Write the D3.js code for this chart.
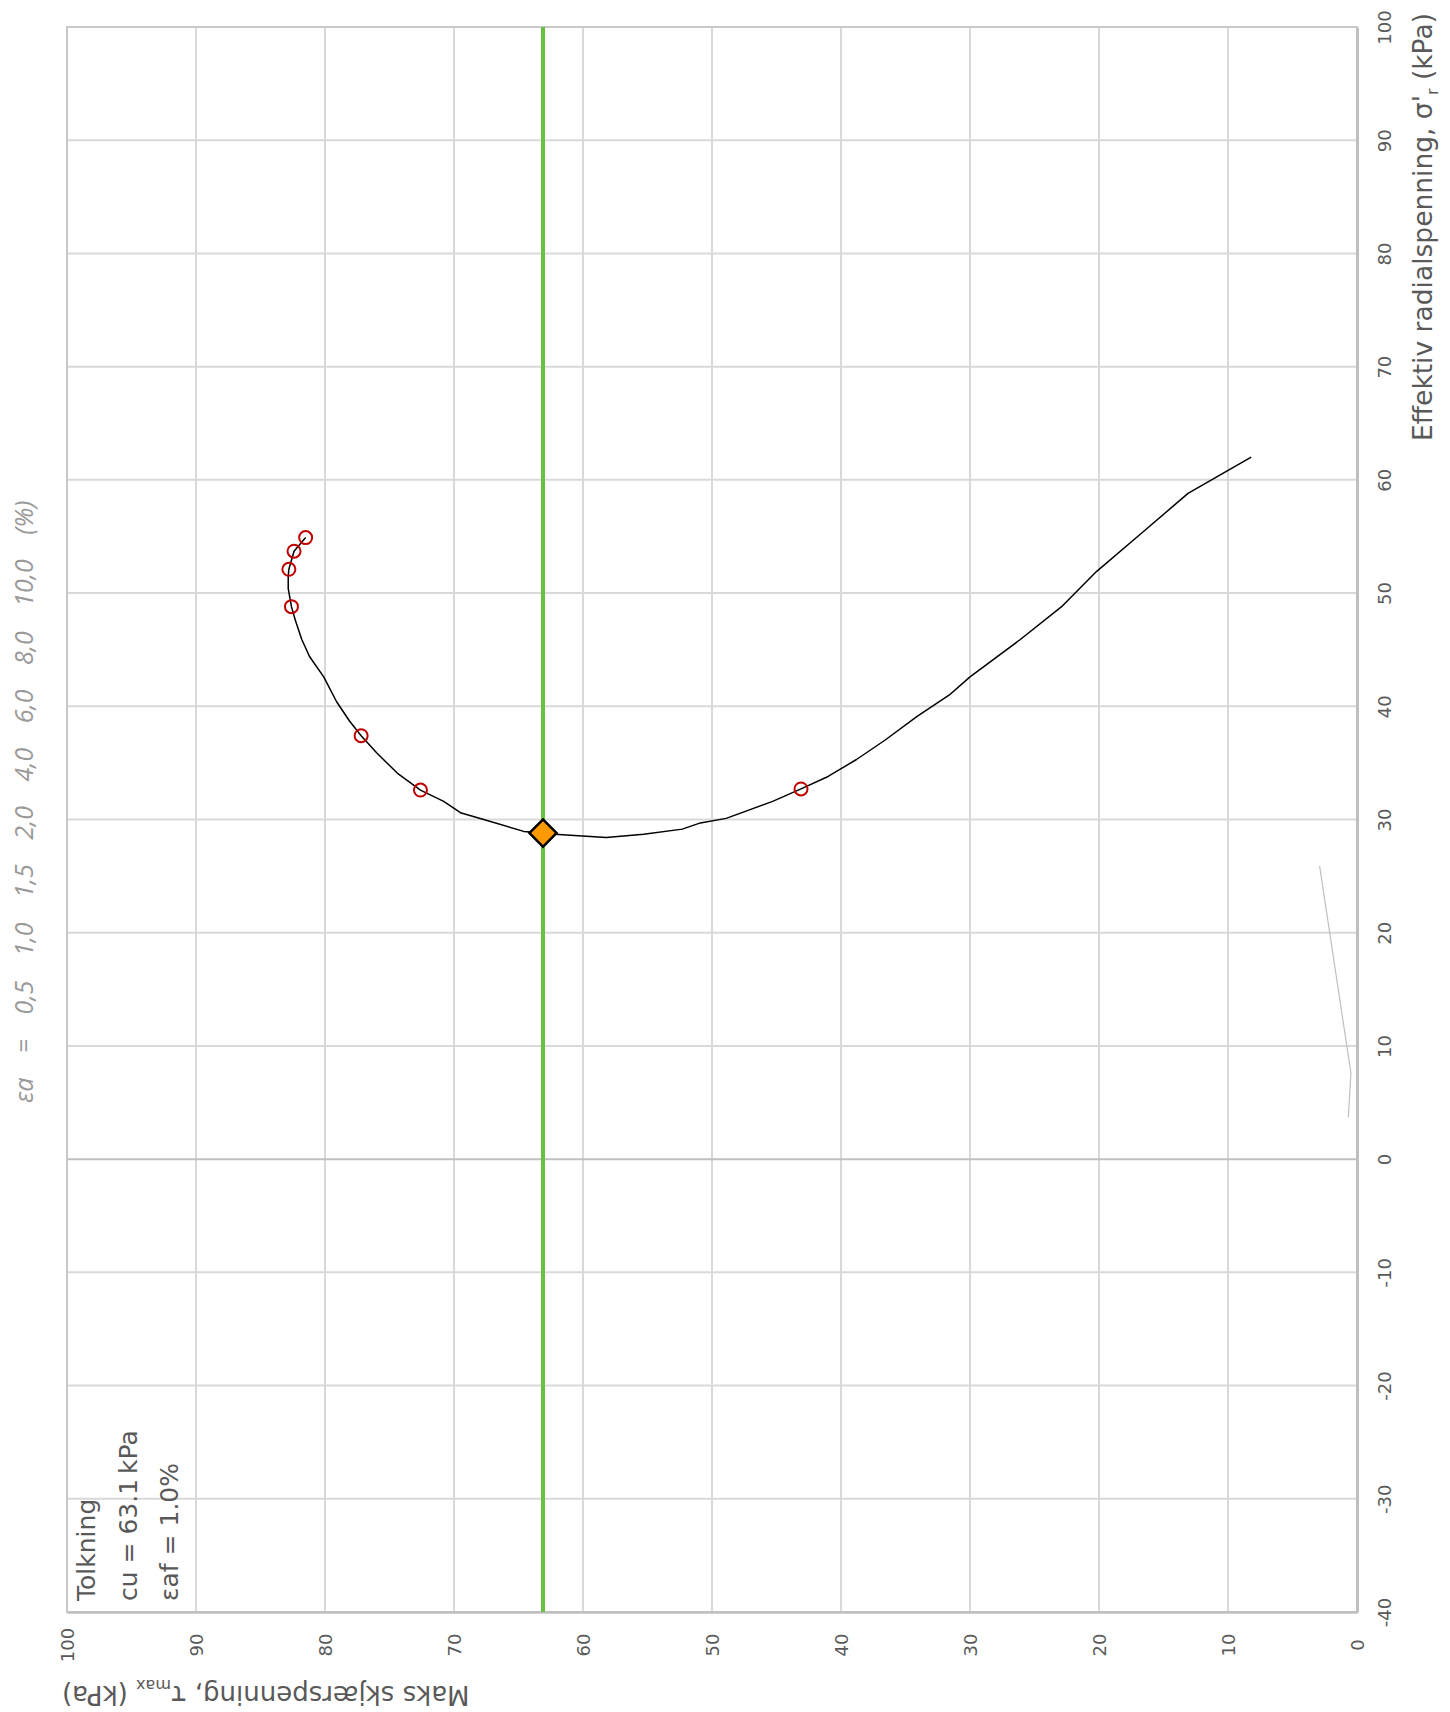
<!DOCTYPE html>
<html>
<head>
<meta charset="utf-8">
<script src="https://cdn.jsdelivr.net/npm/d3@7"></script>
<style>
  body { margin: 0; background: #fff; }
</style>
</head>
<body>
<script>
// stress path: max shear stress (tau) vs effective radial stress (sigma), both kPa
const pathTau = [8.2, 13.1, 16.8, 20.2, 22.9, 26.1, 30.0, 31.6, 34.1, 36.6, 38.8, 41.0, 43.1, 45.3, 48.9, 50.9,
  52.3, 55.3, 58.2, 62.2, 63.1, 64.6, 67.7, 69.5, 70.8, 72.6, 74.4, 76.0, 77.2, 78.1, 79.1, 80.1, 81.2, 81.8,
  82.3, 82.6, 82.85, 82.85, 82.8, 82.4, 81.5];
const pathSigma = [62.0, 58.8, 55.2, 51.9, 48.8, 45.9, 42.6, 41.0, 39.1, 37.0, 35.3, 33.8, 32.7, 31.6, 30.1, 29.7,
  29.15, 28.7, 28.4, 28.7, 28.8, 28.95, 30.0, 30.6, 31.6, 32.6, 34.1, 35.9, 37.4, 38.7, 40.4, 42.6, 44.4, 45.9,
  47.6, 48.8, 50.4, 51.5, 52.1, 53.7, 54.9];

// markers at given axial strains
const markerStrain = ["0,5", "1,0", "1,5", "2,0", "4,0", "6,0", "8,0", "10,0"];
const markerTau = [43.1, 63.1, 72.6, 77.2, 82.6, 82.8, 82.4, 81.5];
const markerSigma = [32.7, 28.8, 32.6, 37.4, 48.8, 52.1, 53.7, 54.9];

// faint grey series near the axis
const greyTau = [2.9, 0.47, 0.67];
const greySigma = [25.9, 7.6, 3.7];

// interpretation
const cu = 63.1;
const eaf = 1.0;
const sigmaAtFailure = 28.8;

const tauTicks = d3.range(0, 101, 10);
const sigmaTicks = d3.range(-40, 101, 10);

const width = 1450, height = 1712;
const plotLeft = 67, plotRight = 1357, plotTop = 27, plotBottom = 1612;
const font = "'DejaVu Sans', sans-serif";

// chart is drawn turned a quarter: tau runs right-to-left along the bottom, sigma runs up the right side
const x = d3.scaleLinear([0, 100], [plotRight, plotLeft]);
const y = d3.scaleLinear([-40, 100], [plotBottom, plotTop]);

const svg = d3.select("body").append("svg")
    .attr("width", width)
    .attr("height", height)
    .attr("viewBox", [0, 0, width, height])
    .style("font-family", font);

// gridlines
svg.append("g")
    .selectAll("line")
    .data(tauTicks.filter(d => d > 0 && d < 100))
    .join("line")
      .attr("x1", d => x(d)).attr("x2", d => x(d))
      .attr("y1", plotTop).attr("y2", plotBottom)
      .attr("stroke", "#d9d9d9")
      .attr("stroke-width", 2);

svg.append("g")
    .selectAll("line")
    .data(sigmaTicks.filter(d => d > -40 && d < 100))
    .join("line")
      .attr("x1", plotLeft).attr("x2", plotRight)
      .attr("y1", d => y(d)).attr("y2", d => y(d))
      .attr("stroke", d => d === 0 ? "#bfbfbf" : "#d9d9d9")
      .attr("stroke-width", 2);

// plot border
svg.append("rect")
    .attr("x", plotLeft).attr("y", plotTop)
    .attr("width", plotRight - plotLeft).attr("height", plotBottom - plotTop)
    .attr("fill", "none")
    .attr("stroke", "#c8c8c8")
    .attr("stroke-width", 2);

// sigma axis (right)
svg.append("g")
    .attr("transform", `translate(${plotRight},0)`)
    .call(d3.axisRight(y).tickValues(sigmaTicks).tickSize(0).tickFormat(d => String(d)))
    .call(g => g.select(".domain").attr("stroke", "#bfbfbf").attr("stroke-width", 3))
    .call(g => g.selectAll(".tick text")
        .attr("x", null).attr("y", null)
        .attr("transform", "translate(28,0) rotate(-90)")
        .attr("text-anchor", "middle")
        .attr("dy", "0.35em")
        .attr("fill", "#595959")
        .attr("font-size", 18)
        .attr("font-family", font));

// tau axis (bottom)
svg.append("g")
    .attr("transform", `translate(0,${plotBottom})`)
    .call(d3.axisBottom(x).tickValues(tauTicks).tickSize(0).tickFormat(d => String(d)))
    .call(g => g.select(".domain").attr("stroke", "#bfbfbf").attr("stroke-width", 2.5))
    .call(g => g.selectAll(".tick text")
        .attr("x", null).attr("y", null)
        .attr("transform", "translate(0,33) rotate(-90)")
        .attr("text-anchor", "middle")
        .attr("dy", "0.35em")
        .attr("fill", "#595959")
        .attr("font-size", 18)
        .attr("font-family", font));

// axis titles
const sigmaTitle = svg.append("text")
    .attr("transform", `translate(1432,13) rotate(-90)`)
    .attr("text-anchor", "end")
    .attr("fill", "#595959")
    .attr("font-size", 26.5);
sigmaTitle.append("tspan").text("Effektiv radialspenning, σ'");
sigmaTitle.append("tspan").attr("font-size", 16).attr("dy", 6).text("r");
sigmaTitle.append("tspan").attr("dy", -6).text(" (kPa)");

const tauTitle = svg.append("text")
    .attr("transform", `translate(62,1686) rotate(180)`)
    .attr("text-anchor", "end")
    .attr("fill", "#595959")
    .attr("font-size", 26);
tauTitle.append("tspan").text("Maks skjærspenning, τ");
tauTitle.append("tspan").attr("font-size", 16).attr("dy", 6).text("max");
tauTitle.append("tspan").attr("dy", -6).text(" (kPa)");

// faint grey series
const line = d3.line().x(d => x(d[0])).y(d => y(d[1]));

svg.append("path")
    .datum(d3.zip(greyTau, greySigma))
    .attr("fill", "none")
    .attr("stroke", "#c0c0c0")
    .attr("stroke-width", 1.2)
    .attr("d", line);

// cu line
svg.append("line")
    .attr("x1", x(cu)).attr("x2", x(cu))
    .attr("y1", plotTop).attr("y2", plotBottom)
    .attr("stroke", "#6abf45")
    .attr("stroke-width", 4);

// stress path
svg.append("path")
    .datum(d3.zip(pathTau, pathSigma))
    .attr("fill", "none")
    .attr("stroke", "#000")
    .attr("stroke-width", 1.5)
    .attr("stroke-linejoin", "round")
    .attr("d", line);

// strain markers
svg.append("g")
    .selectAll("circle")
    .data(d3.range(markerStrain.length))
    .join("circle")
      .attr("cx", i => x(markerTau[i]))
      .attr("cy", i => y(markerSigma[i]))
      .attr("r", 6.5)
      .attr("fill", "none")
      .attr("stroke", "#c00000")
      .attr("stroke-width", 2);

// failure point
svg.append("path")
    .attr("d", d3.symbol(d3.symbolSquare, 370)())
    .attr("transform", `translate(${x(cu)},${y(sigmaAtFailure)}) rotate(45)`)
    .attr("fill", "#ff9900")
    .attr("stroke", "#000")
    .attr("stroke-width", 2.5);

// strain label row
svg.append("text")
    .attr("transform", "translate(33,1103) rotate(-90)")
    .attr("fill", "#999")
    .attr("font-size", 25)
    .attr("font-style", "italic")
    .attr("font-family", "'Open Sans', sans-serif")
    .attr("word-spacing", 18)
    .text(["εa", "=", ...markerStrain, "(%)"].join(" "));

// interpretation box
const notes = ["Tolkning", `cu = ${cu.toFixed(1)}\u2009kPa`, `εaf = ${eaf.toFixed(1)}%`];
svg.append("g")
    .selectAll("text")
    .data(notes)
    .join("text")
      .attr("transform", (d, i) => `translate(${95 + i * 41.5},1601) rotate(-90)`)
      .attr("fill", "#595959")
      .attr("font-size", 25)
      .text(d => d);
</script>
</body>
</html>
